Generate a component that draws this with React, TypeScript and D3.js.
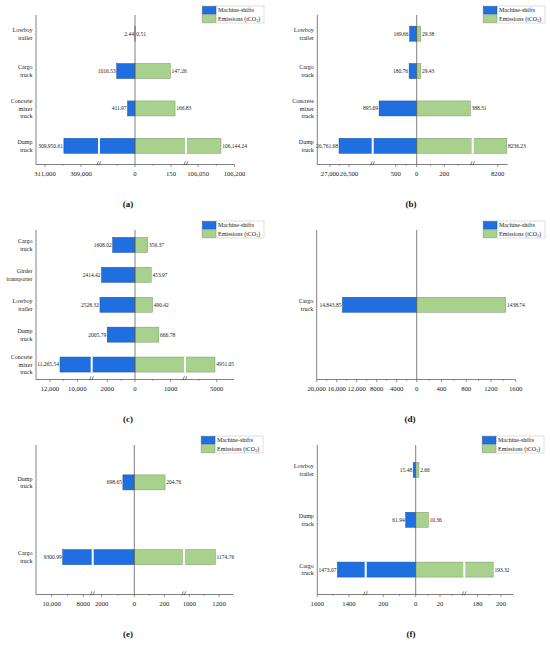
import * as d3 from "d3";

// (a)
const catsA = ["Lowboy trailer", "Cargo truck", "Concrete mixer truck", "Dump truck"];
const shiftsA = [2.44, 1016.53, 411.97, 309950.61];
const emissA = [0.51, 147.26, 166.83, 106144.24];
const leftDomA = [0, 2000, 308000, 311500];
const rightDomA = [0, 212.5, 106000, 106200];
const leftTicksA = [311000, 309000, 0];
const rightTicksA = [150, 106050, 106200];
const leftMinorA = [310000, 1000];
const rightMinorA = [75, 106125];

// (b)
const catsB = ["Lowboy trailer", "Cargo truck", "Concrete mixer truck", "Dump truck"];
const shiftsB = [169.66, 180.76, 895.69, 26761.68];
const emissB = [29.38, 29.43, 388.31, 8236.23];
const leftDomB = [0, 1048, 25876, 27334];
const rightDomB = [0, 406, 8100, 8240];
const leftTicksB = [27000, 26500, 500, 0];
const rightTicksB = [200, 8200];
const leftMinorB = [26750, 250];
const rightMinorB = [100, 300];

// (c)
const catsC = ["Cargo truck", "Girder transporter", "Lowboy trailer", "Dump truck", "Concrete mixer truck"];
const shiftsC = [1608.02, 2414.42, 2528.32, 2005.79, 11265.54];
const emissC = [356.37, 453.97, 490.42, 666.78, 4951.05];
const leftDomC = [0, 3126, 8947, 13021];
const rightDomC = [0, 1400, 4112, 5485];
const leftTicksC = [12000, 10000, 2000, 0];
const rightTicksC = [1000, 5000];
const leftMinorC = [11000, 1000];
const rightMinorC = [500, 4500];

// (d)
const catsD = ["Cargo truck"];
const shiftsD = [14843.85];
const emissD = [1438.74];
const leftDomD = [0, 20000];
const rightDomD = [0, 1600];
const leftTicksD = [20000, 16000, 12000, 8000, 4000, 0];
const rightTicksD = [400, 800, 1200, 1600];
const leftMinorD = [18000, 14000, 10000, 6000, 2000];
const rightMinorD = [200, 600, 1000, 1400];

// (e)
const catsE = ["Dump truck", "Cargo truck"];
const shiftsE = [698.65, 9300.99];
const emissE = [204.76, 1174.76];
const leftDomE = [0, 2552, 7405, 10994];
const rightDomE = [0, 331, 964, 1296];
const leftTicksE = [10000, 8000, 2000, 0];
const rightTicksE = [200, 1000, 1200];
const leftMinorE = [9000, 1000];
const rightMinorE = [100, 1100];

// (f)
const catsF = ["Lowboy trailer", "Dump truck", "Cargo truck"];
const shiftsF = [15.48, 61.94, 1473.07];
const emissF = [2.66, 10.36, 193.32];
const leftDomF = [0, 308.6, 1294.6, 1600];
const rightDomF = [0, 40, 168.5, 210.6];
const leftTicksF = [1600, 1400, 200, 0];
const rightTicksF = [20, 180, 200];
const leftMinorF = [1500, 100];
const rightMinorF = [10, 30, 190];

const BLUE = "#1f6fe0";
const BLUE_EDGE = "#1a4f9e";
const GREEN = "#a9d18e";
const GREEN_EDGE = "#7a9468";
const AXIS = "#4a4a4a";
const FONT = "'Liberation Serif', 'DejaVu Serif', serif";

const panels = [
  { tag: "(a)", ox: 0, oy: 0, cats: catsA, shifts: shiftsA, emiss: emissA, leftDom: leftDomA, rightDom: rightDomA,
    leftTicks: leftTicksA, rightTicks: rightTicksA, leftMinor: leftMinorA, rightMinor: rightMinorA,
    zeroX: 135, leftX: 36, rightX: 234.5, breakL: 99, breakR: 186, legX: 202, tagX: 128 },
  { tag: "(b)", ox: 275, oy: 0, cats: catsB, shifts: shiftsB, emiss: emissB, leftDom: leftDomB, rightDom: rightDomB,
    leftTicks: leftTicksB, rightTicks: rightTicksB, leftMinor: leftMinorB, rightMinor: rightMinorB,
    zeroX: 141.7, leftX: 42.3, rightX: 232.7, breakL: 97.7, breakR: 197.7, legX: 208, tagX: 136 },
  { tag: "(c)", ox: 0, oy: 215, cats: catsC, shifts: shiftsC, emiss: emissC, leftDom: leftDomC, rightDom: rightDomC,
    leftTicks: leftTicksC, rightTicks: rightTicksC, leftMinor: leftMinorC, rightMinor: rightMinorC,
    zeroX: 135, leftX: 36, rightX: 234, breakL: 91.7, breakR: 185, legX: 202, tagX: 128 },
  { tag: "(d)", ox: 275, oy: 215, cats: catsD, shifts: shiftsD, emiss: emissD, leftDom: leftDomD, rightDom: rightDomD,
    leftTicks: leftTicksD, rightTicks: rightTicksD, leftMinor: leftMinorD, rightMinor: rightMinorD,
    zeroX: 141.7, leftX: 41.7, rightX: 240.7, breakL: null, breakR: null, legX: 208, tagX: 135 },
  { tag: "(e)", ox: 0, oy: 430, cats: catsE, shifts: shiftsE, emiss: emissE, leftDom: leftDomE, rightDom: rightDomE,
    leftTicks: leftTicksE, rightTicks: rightTicksE, leftMinor: leftMinorE, rightMinor: rightMinorE,
    zeroX: 134.3, leftX: 36, rightX: 233.3, breakL: 92.7, breakR: 184, legX: 201, tagX: 128 },
  { tag: "(f)", ox: 275, oy: 430, cats: catsF, shifts: shiftsF, emiss: emissF, leftDom: leftDomF, rightDom: rightDomF,
    leftTicks: leftTicksF, rightTicks: rightTicksF, leftMinor: leftMinorF, rightMinor: rightMinorF,
    zeroX: 140.7, leftX: 42.3, rightX: 238.3, breakL: 90.7, breakR: 189.3, legX: 207, tagX: 136 },
];

const fmtVal = (v: number) => (v >= 10000 ? d3.format(",.2f")(v) : d3.format(".2f")(v));
const fmtTick = (v: number) => (v >= 10000 ? d3.format(",")(v) : String(v));

function Legend({ x, y }: { x: number; y: number }) {
  return (
    <g transform={`translate(${x},${y})`} fontFamily={FONT} fontSize={6}>
      <rect x={0} y={0} width={62} height={17} fill="white" stroke="#c8c8c8" strokeWidth={0.6} />
      <rect x={0.5} y={0.5} width={13.5} height={7.6} fill={BLUE} stroke={BLUE_EDGE} strokeWidth={0.5} />
      <rect x={0.5} y={8.8} width={13.5} height={7.6} fill={GREEN} stroke={GREEN_EDGE} strokeWidth={0.5} />
      <text x={16} y={6.4} fill="#222">Machine-shifts</text>
      <text x={16} y={14.8} fill="#222">
        Emissions (tCO<tspan fontSize={4} dy={1.2}>2</tspan><tspan dy={-1.2}>)</tspan>
      </text>
    </g>
  );
}

function BreakMark({ x, y }: { x: number; y: number }) {
  return (
    <g stroke="#333" strokeWidth={0.6} fill="none">
      <path d={`M${x - 2.2},${y + 1.8} L${x - 0.6},${y - 2.2}`} />
      <path d={`M${x + 0.2},${y + 1.8} L${x + 1.8},${y - 2.2}`} />
    </g>
  );
}

function Panel({ p }: { p: (typeof panels)[number] }) {
  const top = p.oy + 15;
  const axisY = p.oy + 164.5;
  const barH = 15;
  const X = (v: number) => p.ox + v;
  const leftRange = p.breakL == null ? [X(p.zeroX), X(p.leftX)] : [X(p.zeroX), X(p.breakL), X(p.breakL), X(p.leftX)];
  const rightRange = p.breakR == null ? [X(p.zeroX), X(p.rightX)] : [X(p.zeroX), X(p.breakR), X(p.breakR), X(p.rightX)];
  const xl = d3.scaleLinear().domain(p.leftDom).range(leftRange);
  const xr = d3.scaleLinear().domain(p.rightDom).range(rightRange);
  const y = d3.scaleBand<string>().domain(p.cats).range([top, axisY]);
  const x0 = xl(0);

  return (
    <g fontFamily={FONT}>
      {p.cats.map((c, i) => {
        const cy = (y(c) as number) + y.bandwidth() / 2;
        const ls = xl(p.shifts[i]);
        const re = xr(p.emiss[i]);
        const lines = c.split(" ");
        return (
          <g key={c}>
            <rect x={ls} y={cy - barH / 2} width={x0 - ls} height={barH} fill={BLUE} stroke={BLUE_EDGE} strokeWidth={0.5} />
            <rect x={x0} y={cy - barH / 2} width={re - x0} height={barH} fill={GREEN} stroke={GREEN_EDGE} strokeWidth={0.5} />
            {p.breakL != null && p.shifts[i] > p.leftDom[1] && (
              <rect x={X(p.breakL) - 1} y={cy - barH / 2 - 0.5} width={2} height={barH + 1} fill="white" />
            )}
            {p.breakR != null && p.emiss[i] > p.rightDom[1] && (
              <rect x={X(p.breakR) - 1} y={cy - barH / 2 - 0.5} width={2} height={barH + 1} fill="white" />
            )}
            <text x={ls - 1} y={cy} dy="0.35em" textAnchor="end" fontSize={5.5} fill="#222">
              {fmtVal(p.shifts[i])}
            </text>
            <text x={re + 1.2} y={cy} dy="0.35em" textAnchor="start" fontSize={5.5} fill="#222">
              {fmtVal(p.emiss[i])}
            </text>
            {lines.map((l, k) => (
              <text key={k} x={X(p.leftX) - 3.5} y={cy + (k - (lines.length - 1) / 2) * 7.5} dy="0.35em"
                textAnchor="end" fontSize={6} fill="#222">
                {l}
              </text>
            ))}
          </g>
        );
      })}

      {/* axes */}
      <line x1={X(p.leftX)} x2={X(p.leftX)} y1={top} y2={axisY} stroke={AXIS} strokeWidth={0.7} />
      <line x1={x0} x2={x0} y1={top} y2={axisY} stroke={AXIS} strokeWidth={0.7} />
      <line x1={X(p.leftX)} x2={X(p.rightX)} y1={axisY} y2={axisY} stroke={AXIS} strokeWidth={0.7} />

      {p.leftTicks.map((t) => (
        <g key={"l" + t}>
          <line x1={xl(t)} x2={xl(t)} y1={axisY} y2={axisY + 2.5} stroke={AXIS} strokeWidth={0.6} />
          <text x={xl(t)} y={axisY + 11} textAnchor="middle" fontSize={6.7} fill="#222">{fmtTick(t)}</text>
        </g>
      ))}
      {p.rightTicks.map((t) => (
        <g key={"r" + t}>
          <line x1={xr(t)} x2={xr(t)} y1={axisY} y2={axisY + 2.5} stroke={AXIS} strokeWidth={0.6} />
          <text x={xr(t)} y={axisY + 11} textAnchor="middle" fontSize={6.7} fill="#222">{fmtTick(t)}</text>
        </g>
      ))}
      {p.leftMinor.map((t) => (
        <line key={"lm" + t} x1={xl(t)} x2={xl(t)} y1={axisY} y2={axisY + 1.5} stroke={AXIS} strokeWidth={0.5} />
      ))}
      {p.rightMinor.map((t) => (
        <line key={"rm" + t} x1={xr(t)} x2={xr(t)} y1={axisY} y2={axisY + 1.5} stroke={AXIS} strokeWidth={0.5} />
      ))}
      {p.breakL != null && <BreakMark x={X(p.breakL)} y={axisY - 1} />}
      {p.breakR != null && <BreakMark x={X(p.breakR)} y={axisY - 1} />}

      <Legend x={X(p.legX)} y={p.oy + 6} />
      <text x={X(p.tagX)} y={p.oy + 207} textAnchor="middle" fontSize={9} fontWeight="bold" fill="#111">
        {p.tag}
      </text>
    </g>
  );
}

export default function App() {
  return (
    <svg width={550} height={646} style={{ position: "absolute", left: 0, top: 0, background: "white" }}>
      <rect width={550} height={646} fill="white" />
      {panels.map((p) => (
        <Panel key={p.tag} p={p} />
      ))}
    </svg>
  );
}
